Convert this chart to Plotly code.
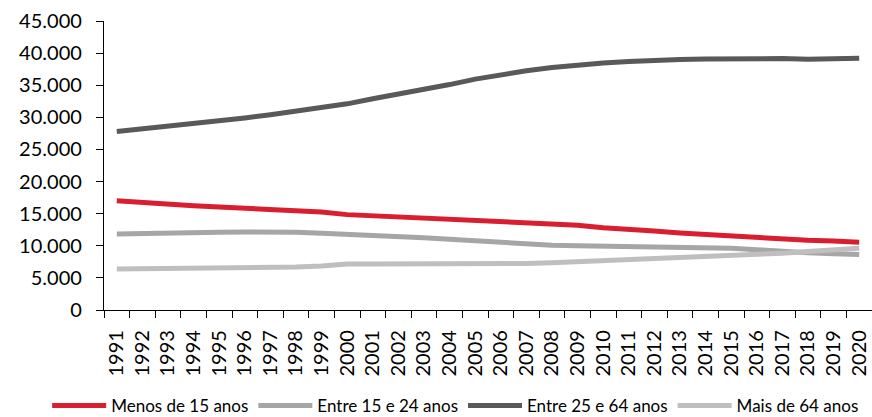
import plotly.graph_objects as go

# Population by age group, 1991-2020
anos = [str(a) for a in range(1991, 2021)]

menos_15 = [17000, 16700, 16450, 16250, 16050, 15850, 15650, 15450, 15250, 14850,
            14650, 14500, 14350, 14200, 14000, 13800, 13600, 13400, 13200, 12800,
            12600, 12300, 12000, 11750, 11450, 11250, 11050, 10850, 10750, 10550]

entre_15_24 = [11850, 11950, 12000, 12050, 12100, 12150, 12150, 12100, 11950, 11800,
               11650, 11450, 11250, 11000, 10750, 10550, 10350, 10100, 10000, 9950,
               9900, 9850, 9800, 9700, 9600, 9400, 9100, 8900, 8750, 8650]

entre_25_64 = [27800, 28200, 28600, 29000, 29450, 29900, 30400, 30950, 31550, 32100,
               32900, 33600, 34350, 35100, 35950, 36650, 37250, 37750, 38150, 38450,
               38700, 38900, 39000, 39100, 39150, 39200, 39150, 39050, 39150, 39200]

mais_64 = [6400, 6450, 6400, 6400, 6450, 6550, 6600, 6700, 6850, 7150,
           7150, 7150, 7100, 7100, 7150, 7200, 7250, 7350, 7500, 7700,
           7850, 8000, 8150, 8250, 8400, 8600, 8850, 9100, 9350, 9600]

series = [
    ("Menos de 15 anos", menos_15, "#D81E2F"),
    ("Entre 15 e 24 anos", entre_15_24, "#A6A6A6"),
    ("Entre 25 e 64 anos", entre_25_64, "#595959"),
    ("Mais de 64 anos", mais_64, "#BFBFBF"),
]

fig = go.Figure()
for nome, valores, cor in series:
    fig.add_trace(go.Scatter(
        x=anos, y=valores, name=nome, mode="lines",
        line=dict(color=cor, width=5),
    ))

fig.update_layout(
    width=872, height=417,
    margin=dict(l=104, r=0, t=21, b=107, autoexpand=False),
    paper_bgcolor="white", plot_bgcolor="white",
    separators=",.",
    font=dict(family="Lato", color="#000000"),
    showlegend=True,
    legend=dict(
        orientation="h",
        x=-0.074, xanchor="left",
        y=-0.332, yanchor="middle",
        itemwidth=54,
        font=dict(family="Lato", size=17, color="#000000"),
        bgcolor="rgba(0,0,0,0)",
    ),
    xaxis=dict(
        type="category",
        range=[-0.5, 29.5],
        automargin=False,
        showgrid=False, zeroline=False,
        showline=True, linecolor="#000000", linewidth=1.3,
        ticks="outside", tickson="boundaries", ticklen=7,
        tickcolor="#000000", tickwidth=1.3,
        tickangle=-90,
        ticklabelstandoff=11,
        tickfont=dict(family="Lato", size=20, color="#000000"),
    ),
    yaxis=dict(
        range=[0, 45000],
        automargin=False,
        tickvals=[0, 5000, 10000, 15000, 20000, 25000, 30000, 35000, 40000, 45000],
        tickformat=",d",
        showgrid=False, zeroline=False,
        showline=True, linecolor="#000000", linewidth=1.3,
        ticks="outside", ticklen=7, tickcolor="#000000", tickwidth=1.3,
        ticklabelstandoff=10,
        tickfont=dict(family="Lato", size=20, color="#000000"),
    ),
)

fig.write_html("out.html")
